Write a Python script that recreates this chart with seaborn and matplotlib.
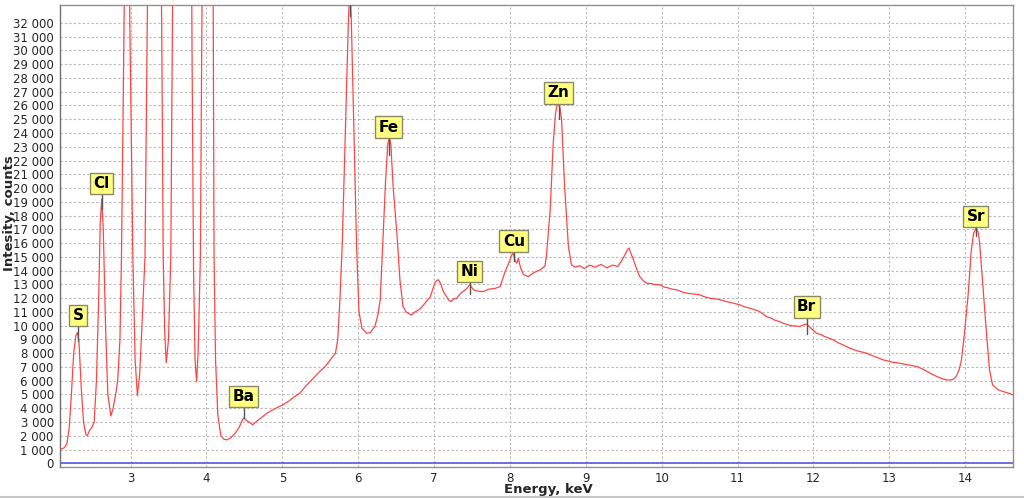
import matplotlib
matplotlib.use("Agg")
import matplotlib.pyplot as plt
import seaborn as sns
import pandas as pd
from matplotlib.ticker import FuncFormatter, MultipleLocator, FixedLocator
from matplotlib.lines import Line2D

# spectrum (keV, counts)
energy = [2.07, 2.10, 2.13, 2.16, 2.19, 2.22, 2.25, 2.28, 2.30, 2.32, 2.35, 2.38,
          2.41, 2.43, 2.46, 2.49, 2.52, 2.55, 2.58, 2.60, 2.62, 2.64, 2.67, 2.70,
          2.74, 2.77, 2.80, 2.83, 2.86, 2.88, 2.915, 2.955, 2.99, 3.03, 3.06, 3.09,
          3.12, 3.15, 3.19, 3.22, 3.26, 3.36, 3.41, 3.43, 3.45, 3.47, 3.50, 3.53,
          3.55, 3.58, 3.78, 3.81, 3.83, 3.85, 3.87, 3.89, 3.92, 3.94, 3.97, 4.06,
          4.09, 4.10, 4.12, 4.15, 4.19, 4.23, 4.27, 4.32, 4.38, 4.43, 4.47, 4.49,
          4.53, 4.57, 4.61, 4.66, 4.72, 4.80, 4.88, 4.95, 5.01, 5.08, 5.15, 5.23,
          5.30, 5.36, 5.41, 5.48, 5.56, 5.63, 5.70, 5.73, 5.76, 5.79, 5.87, 5.89,
          5.91, 5.98, 6.01, 6.05, 6.11, 6.16, 6.22, 6.26, 6.29, 6.33, 6.36, 6.39,
          6.41, 6.43, 6.46, 6.51, 6.55, 6.59, 6.63, 6.66, 6.70, 6.75, 6.81, 6.86,
          6.95, 7.01, 7.04, 7.06, 7.09, 7.12, 7.19, 7.22, 7.26, 7.30, 7.34, 7.38,
          7.43, 7.47, 7.52, 7.58, 7.65, 7.72, 7.80, 7.87, 7.93, 7.98, 8.02, 8.04,
          8.07, 8.09, 8.11, 8.14, 8.18, 8.24, 8.30, 8.35, 8.40, 8.44, 8.46, 8.48,
          8.53, 8.57, 8.60, 8.62, 8.64, 8.66, 8.68, 8.72, 8.77, 8.81, 8.86, 8.92,
          8.98, 9.05, 9.12, 9.20, 9.28, 9.35, 9.42, 9.47, 9.52, 9.55, 9.57, 9.59,
          9.62, 9.67, 9.71, 9.76, 9.80, 9.86, 9.90, 9.98, 10.03, 10.08, 10.14, 10.20,
          10.27, 10.33, 10.42, 10.50, 10.56, 10.60, 10.65, 10.70, 10.77, 10.85, 10.94, 11.03,
          11.10, 11.16, 11.23, 11.29, 11.38, 11.44, 11.49, 11.55, 11.60, 11.70, 11.76, 11.82,
          11.86, 11.91, 11.97, 12.04, 12.10, 12.15, 12.26, 12.31, 12.37, 12.48, 12.54, 12.59,
          12.70, 12.76, 12.81, 12.92, 12.97, 13.03, 13.14, 13.20, 13.25, 13.36, 13.42, 13.47,
          13.58, 13.63, 13.67, 13.75, 13.80, 13.84, 13.88, 13.92, 13.95, 13.99, 14.04, 14.08,
          14.11, 14.14, 14.17, 14.19, 14.23, 14.28, 14.32, 14.36, 14.43, 14.50, 14.57, 14.63]
counts = [1050, 1050, 1150, 1400, 2500, 5000, 8000, 9300, 9500, 8800, 5500, 3000,
          2100, 2000, 2400, 2600, 3000, 6000, 12000, 17500, 19200, 17000, 10000, 5000,
          3440, 4000, 4900, 6000, 9000, 15000, 32000, 60000, 32000, 15000, 7500, 4900,
          6500, 10000, 15000, 32000, 55000, 55000, 32000, 15000, 9500, 7300, 9000, 15000,
          30000, 60000, 60000, 30000, 14000, 7500, 5940, 8000, 15000, 32000, 60000, 60000,
          32000, 15000, 7500, 3500, 2000, 1750, 1700, 1850, 2200, 2600, 3100, 3300,
          3100, 2950, 2800, 3050, 3300, 3650, 3900, 4100, 4250, 4500, 4800, 5100,
          5550, 5900, 6200, 6600, 7000, 7500, 8000, 9000, 12000, 16000, 32000, 35000,
          32000, 15500, 11000, 9800, 9450, 9500, 9940, 10800, 11900, 16700, 20500, 23200,
          23650, 23200, 20100, 16700, 13300, 11400, 11000, 10900, 10780, 11000, 11200, 11500,
          12100, 13100, 13300, 13330, 13000, 12500, 11880, 11750, 11950, 12000, 12300, 12480,
          12700, 12970, 12600, 12500, 12480, 12650, 12700, 12840, 13830, 14500, 15100, 15270,
          14700, 14540, 14900, 14200, 13700, 13570, 13800, 13950, 14050, 14250, 14300, 15030,
          18420, 23270, 25400, 26000, 26180, 25800, 24970, 20120, 15750, 14420, 14250, 14350,
          14150, 14400, 14250, 14450, 14200, 14400, 14300, 14700, 15200, 15550, 15640, 15300,
          14900, 14100, 13570, 13250, 13090, 13050, 13000, 12970, 12800, 12750, 12650, 12600,
          12450, 12360, 12300, 12240, 12100, 12050, 11980, 11950, 11880, 11750, 11640, 11510,
          11350, 11270, 11150, 11030, 10660, 10550, 10400, 10300, 10180, 10000, 9980, 9940,
          10050, 10110, 9800, 9450, 9350, 9200, 8970, 8800, 8650, 8360, 8250, 8150,
          8000, 7850, 7750, 7510, 7450, 7350, 7270, 7200, 7150, 7030, 6900, 6750,
          6420, 6300, 6200, 6060, 6050, 6100, 6300, 6800, 7510, 9450, 12360, 15510,
          16700, 17090, 16800, 16000, 13090, 9450, 6790, 5690, 5350, 5210, 5100, 4970]

# element labels: name, energy, box centre (counts), marker bottom (counts)
elements = ["S", "Cl", "Ba", "Fe", "Ni", "Cu", "Zn", "Br", "Sr"]
el_energy = [2.31, 2.62, 4.49, 6.40, 7.47, 8.05, 8.64, 11.91, 14.14]
el_box_y = [10730, 20330, 4860, 24420, 13930, 16150, 26910, 11370, 17940]
el_mark_bottom = [8900, 18500, 3300, 22400, 12300, 14700, 25000, 9400, 16500]

df = pd.DataFrame({"Energy": energy, "Counts": counts})

sns.set_style("white")
plt.rcParams["font.family"] = ["DejaVu Sans"]

fig = plt.figure(figsize=(10.24, 4.99), dpi=100)
ax = fig.add_axes([0.0586, 0.0647, 0.9307, 0.9253])

sns.lineplot(data=df, x="Energy", y="Counts", ax=ax, color="#ff4545",
             linewidth=0.9, estimator=None, sort=False)
ax.axhline(0, color="#5a5ae0", linewidth=1.2, zorder=1)

ax.set_xlim(2.07, 14.63)
ax.set_ylim(-250, 33300)
ax.yaxis.set_major_locator(FixedLocator(list(range(0, 32001, 1000))))
ax.xaxis.set_major_locator(MultipleLocator(1))
ax.xaxis.set_minor_locator(MultipleLocator(0.25))
ax.yaxis.set_major_formatter(FuncFormatter(lambda v, p: f"{int(v):,}".replace(",", " ")))
ax.grid(True, which="major", color="#b8b8b8", linestyle=(0, (2, 2)), linewidth=0.8)
ax.tick_params(axis="both", which="major", labelsize=8.5, length=3, color="#606060",
               direction="out", pad=1.5)
ax.tick_params(axis="x", which="major", pad=0.5)
ax.tick_params(axis="x", which="minor", length=2, color="#808080", direction="out")
for s in ax.spines.values():
    s.set_color("#909090")
    s.set_linewidth(1.0)
ax.spines["left"].set_color("#707070")

ax.set_xlabel("Energy, keV", fontsize=9.5, fontweight="bold", labelpad=0)
ax.xaxis.set_label_coords(0.512, -0.036)
ax.set_ylabel("Intesity, counts", fontsize=9.5, fontweight="bold", labelpad=4)
ax.yaxis.set_label_coords(-0.046, 0.55)

for name, e, by, mb in zip(elements, el_energy, el_box_y, el_mark_bottom):
    ax.plot([e, e], [by - 700, mb], color="#555555", linewidth=1.0, zorder=3)
    ax.text(e, by, name, ha="center", va="center", fontsize=11, fontweight="bold",
            color="black", zorder=4,
            bbox=dict(boxstyle="square,pad=0.22", facecolor="#ffff80",
                      edgecolor="#8a8a6a", linewidth=1.0))

# marker stub at the top for the off-scale peak
ax.plot([5.89, 5.89], [33300, 32500], color="#555555", linewidth=1.0, zorder=3)

# thin frame line along the bottom of the picture
fig.add_artist(Line2D([0, 1], [0.004, 0.004], color="#c8c8c8", linewidth=1.5))

fig.savefig("out.png", dpi=100)
